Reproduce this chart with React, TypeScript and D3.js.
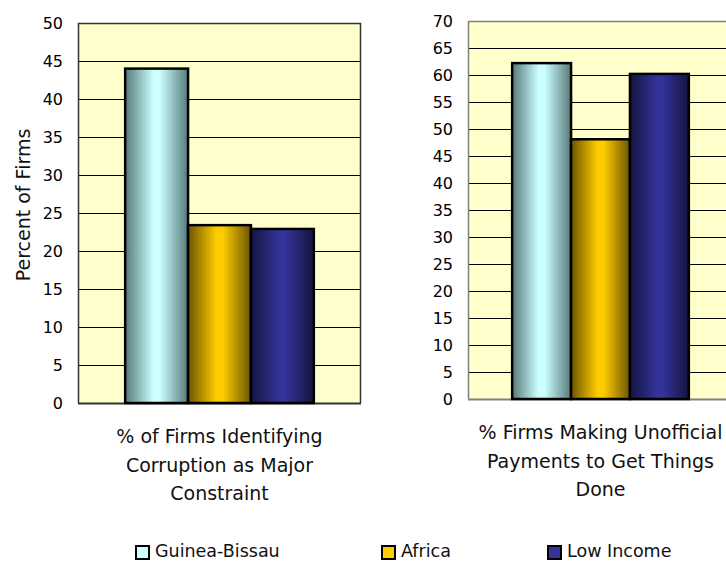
import React from "react";
import * as d3 from "d3";

const series = ["Guinea-Bissau", "Africa", "Low Income"];
const corruptionValues = [44.0, 23.4, 22.9];
const paymentValues = [62.2, 48.1, 60.2];
const corruptionLabel = ["% of Firms Identifying", "Corruption as Major", "Constraint"];
const paymentLabel = ["% Firms Making Unofficial", "Payments to Get Things", "Done"];
const yTitle = "Percent of Firms";

const fills = ["#ccffff", "#ffcc00", "#333399"];
const edges = ["#577a7a", "#6b5500", "#141440"];

const FONT = "'DejaVu Sans', Verdana, sans-serif";

type PanelProps = {
  id: string;
  values: number[];
  label: string[];
  max: number;
  x0: number;
  x1: number;
  y0: number;
  y1: number;
  frame: string;
  drawRight: boolean;
};

const Panel = ({ id, values, label, max, x0, x1, y0, y1, frame, drawRight }: PanelProps) => {
  const y = d3.scaleLinear().domain([0, max]).range([y1, y0]);
  const x = d3.scaleBand().domain(series).range([x0, x1]).paddingInner(0).paddingOuter(0.75);
  const ticks = y.ticks(max / 5);
  const cx = (x0 + x1) / 2;

  return (
    <g>
      <rect x={x0} y={y0} width={x1 - x0} height={y1 - y0} fill="#ffffcc" />
      {ticks.filter((t) => t > 0 && t < max).map((t) => (
        <line key={t} x1={x0} x2={x1} y1={Math.round(y(t)) + 0.5} y2={Math.round(y(t)) + 0.5} stroke="#000" strokeWidth={1} />
      ))}
      <path
        d={`M${x0 + 0.5},${y1}V${y0 + 0.5}H${x1 - 0.5}${drawRight ? `V${y1}` : ""}`}
        fill="none"
        stroke={frame}
        strokeWidth={1.5}
      />
      <line x1={x0} x2={x1} y1={y1 + 0.5} y2={y1 + 0.5} stroke={frame} strokeWidth={2} />
      {ticks.map((t) => (
        <text key={t} x={x0 - 15} y={y(t)} dy="0.36em" textAnchor="end" fontSize={16} fontFamily={FONT} fill="#000">
          {t}
        </text>
      ))}
      {values.map((v, i) => (
        <rect
          key={series[i]}
          x={x(series[i])}
          y={y(v)}
          width={x.bandwidth()}
          height={y(0) - y(v)}
          fill={`url(#${id}-g${i})`}
          stroke="#000"
          strokeWidth={2.5}
        />
      ))}
      {label.map((l, i) => (
        <text key={l} x={cx} y={y1 + 40 + i * 28.5} textAnchor="middle" fontSize={19} fontFamily={FONT} fill="#111">
          {l}
        </text>
      ))}
    </g>
  );
};

export default function App() {
  const legendX = [135, 381, 547];
  return (
    <svg width={726} height={562} style={{ position: "absolute", left: 0, top: 0, background: "#fff" }}>
      <defs>
        {["a", "b"].map((id) =>
          fills.map((f, i) => (
            <linearGradient key={id + i} id={`${id}-g${i}`} x1="0" x2="1" y1="0" y2="0">
              <stop offset="0" stopColor={edges[i]} />
              <stop offset="0.45" stopColor={f} />
              <stop offset="0.55" stopColor={f} />
              <stop offset="1" stopColor={edges[i]} />
            </linearGradient>
          ))
        )}
      </defs>
      <Panel id="a" values={corruptionValues} label={corruptionLabel} max={50} x0={78} x1={361} y0={23} y1={403} frame="#333" drawRight />
      <Panel id="b" values={paymentValues} label={paymentLabel} max={70} x0={468} x1={733} y0={21} y1={399} frame="#808080" drawRight={false} />
      <text transform="translate(30,205) rotate(-90)" textAnchor="middle" fontSize={19} fontFamily={FONT} fill="#111">
        {yTitle}
      </text>
      {series.map((s, i) => (
        <g key={s}>
          <rect x={legendX[i] + 1} y={546} width={13} height={13} fill={fills[i]} stroke="#000" strokeWidth={2} />
          <text x={legendX[i] + 20} y={557} fontSize={17.5} fontFamily={FONT} fill="#111">
            {s}
          </text>
        </g>
      ))}
    </svg>
  );
}
